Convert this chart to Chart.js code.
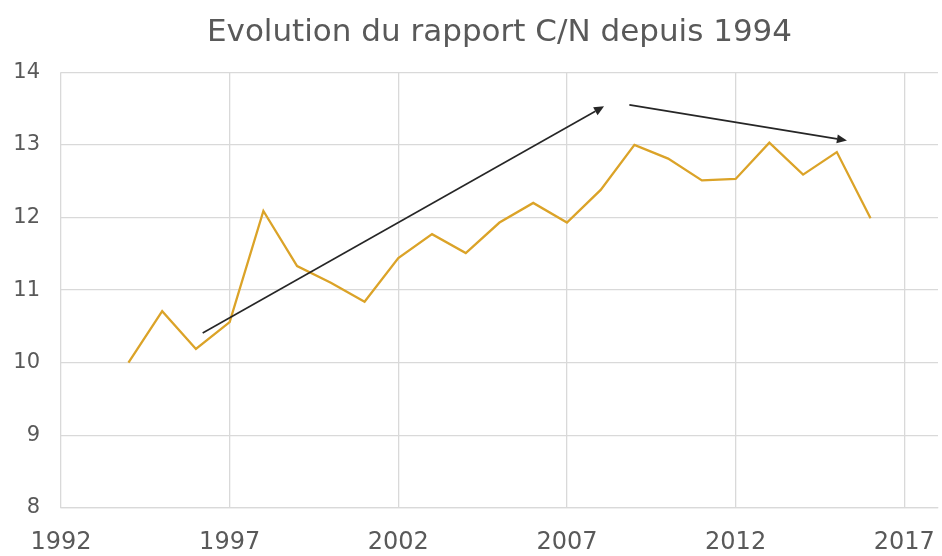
<!DOCTYPE html>
<html>
<head>
<meta charset="utf-8">
<script src="https://cdn.jsdelivr.net/npm/chart.js@4.4.1/dist/chart.umd.min.js"></script>
<style>
  html, body { margin: 0; padding: 0; background: #ffffff; }
  #wrap { width: 942px; height: 556px; }
</style>
</head>
<body>
<div id="wrap"><canvas id="c" width="942" height="556"></canvas></div>
<script>
const years = [1994,1995,1996,1997,1998,1999,2000,2001,2002,2003,2004,2005,2006,2007,2008,2009,2010,2011,2012,2013,2014,2015,2016];
const cnRatio = [10.0,10.71,10.19,10.56,12.09,11.33,11.1,10.84,11.44,11.77,11.51,11.93,12.2,11.93,12.38,13.0,12.81,12.51,12.53,13.03,12.59,12.9,11.99];
const xTicks = [1992,1997,2002,2007,2012,2017];
const yTicks = [8,9,10,11,12,13,14];
const arrowStartX = [1996.2, 2008.85];
const arrowStartY = [10.41, 13.55];
const arrowEndX = [2008.1, 2015.3];
const arrowEndY = [13.53, 13.06];

const FONT = "'DejaVu Sans', Verdana, sans-serif";

const arrowPlugin = {
  id: 'arrows',
  beforeDraw(chart) {
    // center the title over the plot area, as in the reference
    if (chart.titleBlock) {
      chart.titleBlock.left = chart.chartArea.left;
    }
  },
  afterDatasetsDraw(chart) {
    const ctx = chart.ctx, xs = chart.scales.x, ys = chart.scales.y;
    ctx.save();
    ctx.strokeStyle = '#262626';
    ctx.fillStyle = '#262626';
    ctx.lineWidth = 1.6;
    for (let i = 0; i < arrowStartX.length; i++) {
      const x1 = xs.getPixelForValue(arrowStartX[i]), y1 = ys.getPixelForValue(arrowStartY[i]);
      const x2 = xs.getPixelForValue(arrowEndX[i]), y2 = ys.getPixelForValue(arrowEndY[i]);
      const a = Math.atan2(y2 - y1, x2 - x1);
      const L = 10, W = 4.5;
      const bx = x2 - L * Math.cos(a), by = y2 - L * Math.sin(a);
      ctx.beginPath();
      ctx.moveTo(x1, y1);
      ctx.lineTo(bx, by);
      ctx.stroke();
      ctx.beginPath();
      ctx.moveTo(x2, y2);
      ctx.lineTo(bx + W * Math.sin(a), by - W * Math.cos(a));
      ctx.lineTo(bx - W * Math.sin(a), by + W * Math.cos(a));
      ctx.closePath();
      ctx.fill();
    }
    ctx.restore();
  }
};

new Chart(document.getElementById('c'), {
  type: 'line',
  data: {
    datasets: [{
      label: 'C/N',
      data: years.map((y, i) => ({ x: y, y: cnRatio[i] })),
      borderColor: '#DBA328',
      borderWidth: 2.3,
      pointRadius: 0,
      tension: 0,
      fill: false
    }]
  },
  options: {
    responsive: false,
    animation: false,
    layout: { padding: { top: 0, right: 4, left: 0, bottom: 0 } },
    plugins: {
      legend: { display: false },
      tooltip: { enabled: false },
      title: {
        display: true,
        text: 'Evolution du rapport C/N depuis 1994',
        color: '#595959',
        font: { family: FONT, size: 31, weight: 'normal' },
        padding: { top: 14, bottom: 21 }
      }
    },
    scales: {
      x: {
        type: 'linear',
        min: 1992,
        max: 2018,
        afterBuildTicks(scale) { scale.ticks = xTicks.map(v => ({ value: v })); },
        afterFit(scale) { scale.height = 48; scale.paddingLeft = 0; scale.paddingRight = 0; },
        grid: { color: '#d9d9d9', lineWidth: 1.3, drawTicks: false },
        border: { color: '#d9d9d9', width: 1.3 },
        ticks: {
          color: '#595959',
          font: { family: FONT, size: 24 },
          padding: 20,
          maxRotation: 0,
          autoSkip: false,
          callback: v => String(v)
        }
      },
      y: {
        min: 8,
        max: 14,
        afterBuildTicks(scale) { scale.ticks = yTicks.map(v => ({ value: v })); },
        afterFit(scale) { scale.width = 61; scale.paddingTop = 0; scale.paddingBottom = 0; },
        grid: { color: '#d9d9d9', lineWidth: 1.3, drawTicks: false },
        border: { display: false },
        ticks: {
          color: '#595959',
          font: { family: FONT, size: 21 },
          padding: 21
        }
      }
    }
  },
  plugins: [arrowPlugin]
});
</script>
</body>
</html>
